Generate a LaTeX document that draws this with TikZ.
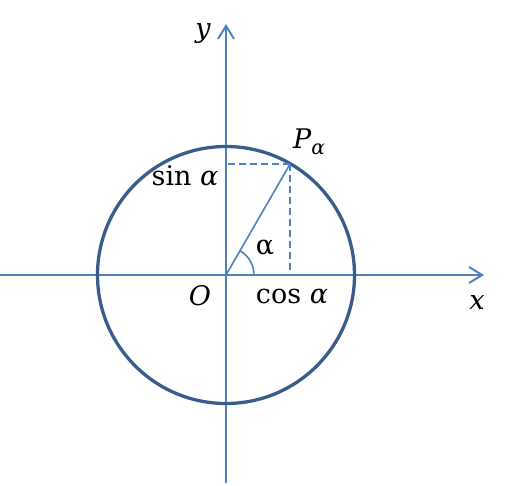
\documentclass[tikz,border=0pt]{standalone}
\usepackage{fontspec}
\usetikzlibrary{arrows.meta}
\newfontfamily\lab{DejaVu Serif}
\definecolor{axisblue}{HTML}{4F81BD}
\definecolor{circblue}{HTML}{385D8A}
\begin{document}
\begin{tikzpicture}[x=1pt,y=1pt,
  axisline/.style={draw=axisblue,line width=2pt,-{Straight Barb[length=13pt,width=16pt,line width=2pt]}},
  thinline/.style={draw=axisblue,line width=1.6pt},
  dashline/.style={draw=axisblue,line width=1.6pt,dash pattern=on 7pt off 4pt},
  lbl/.style={inner sep=0pt,font=\lab\fontsize{27}{31}\selectfont}]
\useasboundingbox (0,0) rectangle (506,485);
\coordinate (O) at (226,210);
\coordinate (P) at (290,320.9);
\coordinate (Px) at (290,210);
\coordinate (Py) at (226,320.9);
\coordinate (xl) at (0,210);
\coordinate (xr) at (484,210);
\coordinate (yb) at (226,2);
\coordinate (yt) at (226,461);
\draw[axisline] (xl) -- (xr);
\draw[axisline] (yb) -- (yt);
\draw[circblue,line width=3.3pt] (O) circle[radius=128.5];
\draw[thinline] (O) -- (P);
\draw[dashline] (P) -- (Px);
\draw[dashline] (P) -- (Py);
\draw[thinline] (254,210) arc[start angle=0,end angle=60,radius=28];
\node[lbl] (ylab) at (203,452) {\itshape y};
\node[lbl] (xlab) at (477,183) {\itshape x};
\node[lbl] (Olab) at (200,189) {\itshape O};
\node[lbl] (coslab) at (292,189) {cos \itshape α};
\node[lbl] (sinlab) at (185,309) {sin \itshape α};
\node[lbl] (Plab) at (309,343) {\itshape P\raisebox{-6pt}{\fontsize{20}{24}\selectfont α}};
\node[lbl] (alab) at (265,237) {α};
\end{tikzpicture}
\end{document}
